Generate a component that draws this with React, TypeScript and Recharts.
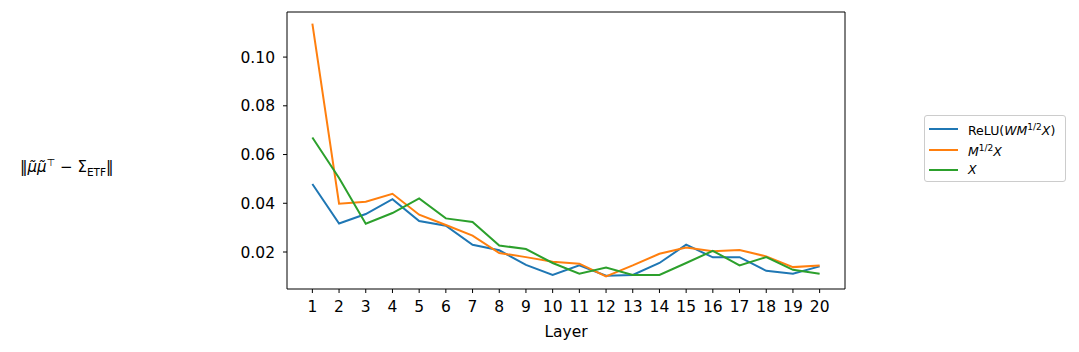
import React from 'react';
import { LineChart, Line, XAxis, YAxis, ReferenceArea } from 'recharts';

const layers = [1, 2, 3, 4, 5, 6, 7, 8, 9, 10, 11, 12, 13, 14, 15, 16, 17, 18, 19, 20];
const reluSeries = [0.0479, 0.0317, 0.0356, 0.0417, 0.0327, 0.0308, 0.0230, 0.0207, 0.0147, 0.0106, 0.0145, 0.0103, 0.0106, 0.0155, 0.0230, 0.0178, 0.0179, 0.0123, 0.0111, 0.0141];
const mHalfSeries = [0.1137, 0.0398, 0.0406, 0.0439, 0.0353, 0.0311, 0.0267, 0.0196, 0.0179, 0.0160, 0.0152, 0.0100, 0.0145, 0.0193, 0.0218, 0.0203, 0.0208, 0.0182, 0.0138, 0.0145];
const xSeries = [0.0670, 0.0504, 0.0316, 0.0360, 0.0420, 0.0338, 0.0323, 0.0227, 0.0212, 0.0155, 0.0111, 0.0136, 0.0106, 0.0106, 0.0155, 0.0205, 0.0145, 0.0179, 0.0127, 0.0111];
const yTicks = [0.02, 0.04, 0.06, 0.08, 0.10];

const data = layers.map((layer, i) => ({
  layer,
  relu: reluSeries[i],
  mhalf: mHalfSeries[i],
  x: xSeries[i],
}));

const font = "'DejaVu Sans', sans-serif";

const legendItems = [
  { color: '#1f77b4', label: <span>ReLU(<i>WM</i><sup style={{ fontSize: 9 }}>1/2</sup><i>X</i>)</span> },
  { color: '#ff7f0e', label: <span><i>M</i><sup style={{ fontSize: 9 }}>1/2</sup><i>X</i></span> },
  { color: '#2ca02c', label: <span><i>X</i></span> },
];

const LegendBox = () => (
  <div
    style={{
      position: 'absolute',
      left: 924,
      top: 115,
      width: 142,
      height: 67,
      boxSizing: 'border-box',
      border: '1px solid #cccccc',
      borderRadius: 3,
      padding: '3px 4px',
      background: '#fff',
      fontFamily: font,
      fontSize: 12.5,
      color: '#000',
    }}
  >
    {legendItems.map((it, i) => (
      <div key={i} style={{ display: 'flex', alignItems: 'center', height: 20.5 }}>
        <span style={{ display: 'inline-block', width: 29, height: 2, background: it.color, marginRight: 10 }} />
        <span style={{ lineHeight: '14px', whiteSpace: 'nowrap' }}>{it.label}</span>
      </div>
    ))}
  </div>
);

const App = () => {
  return (
    <div style={{ position: 'absolute', left: 0, top: 0, width: 1079, height: 352, background: '#fff' }}>
      <div
        style={{
          position: 'absolute',
          left: 20,
          top: 157,
          fontFamily: font,
          fontSize: 15,
          color: '#000',
          whiteSpace: 'nowrap',
        }}
      >
        ‖<i>μ̃μ̃</i><sup style={{ fontSize: 10 }}>⊤</sup> − Σ<sub style={{ fontSize: 10.5 }}>ETF</sub>‖
      </div>
      <LineChart width={1079} height={352} data={data} margin={{ top: 12, right: 234, bottom: 18, left: 227 }}>
        <XAxis
          dataKey="layer"
          type="number"
          domain={[0.05, 20.95]}
          ticks={layers}
          interval={0}
          allowDataOverflow
          axisLine={false}
          tickSize={4}
          tickMargin={8}
          height={45}
          tick={{ fill: '#000', fontSize: 15.5, fontFamily: font }}
          tickLine={{ stroke: '#000' }}
          label={{ value: 'Layer', position: 'insideBottom', offset: -3, fill: '#000', fontSize: 15.5, fontFamily: font }}
        />
        <YAxis
          type="number"
          domain={[0.00482, 0.1185]}
          ticks={yTicks}
          allowDataOverflow
          axisLine={false}
          tickSize={4}
          tickMargin={8}
          width={60}
          tickFormatter={(v: number) => v.toFixed(2)}
          tick={{ fill: '#000', fontSize: 15.5, fontFamily: font }}
          tickLine={{ stroke: '#000' }}
        />
        <ReferenceArea
          x1={0.05}
          x2={20.95}
          y1={0.00482}
          y2={0.1185}
          fill="none"
          stroke="#000"
          strokeWidth={1}
          ifOverflow="visible"
        />
        <Line dataKey="relu" stroke="#1f77b4" strokeWidth={2} dot={false} isAnimationActive={false} />
        <Line dataKey="mhalf" stroke="#ff7f0e" strokeWidth={2} dot={false} isAnimationActive={false} />
        <Line dataKey="x" stroke="#2ca02c" strokeWidth={2} dot={false} isAnimationActive={false} />
      </LineChart>
      <LegendBox />
    </div>
  );
};

export default App;
